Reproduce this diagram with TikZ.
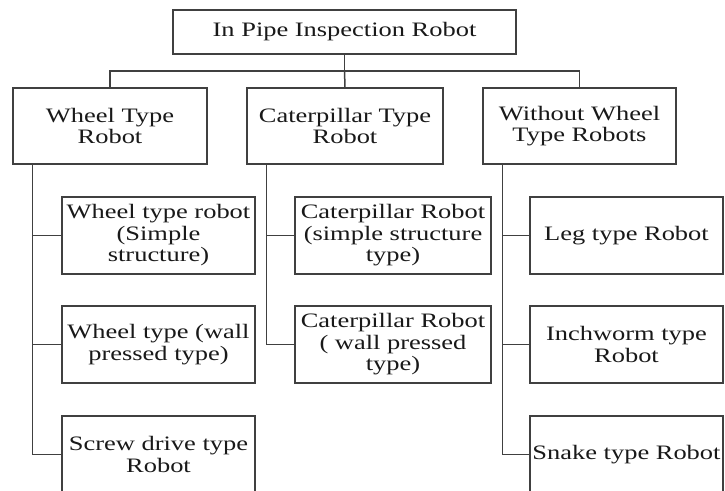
\documentclass[tikz,border=0pt]{standalone}
\usepackage{fontspec}
\setmainfont{Liberation Serif}[FakeStretch=1.29]
\usepackage{xcolor}
\usepackage{tikz}
\usetikzlibrary{positioning}

\begin{document}
\begin{tikzpicture}[x=1pt, y=-1pt,
  box/.style={draw=black!75, line width=1.5pt, align=center, inner sep=0pt,
    font=\fontsize{20.5}{21.5}\selectfont, text=black!90},
  typebox/.style={box, minimum width=194pt, minimum height=76pt},
  subbox/.style={box, minimum width=194pt, minimum height=77pt},
  link/.style={draw=black!75, line width=1.5pt}]
\useasboundingbox[fill=white] (0,0) rectangle (725,490);

% Root
\node[box, minimum width=343pt, minimum height=44pt] (root) at (344.5,32) {In Pipe Inspection Robot};
\coordinate (bar) at (344.5,71);

% Robot types
\node[typebox] (wheel) at (110,126) {Wheel Type\\Robot};
\node[typebox, minimum width=196pt] (cat) at (345,126) {Caterpillar Type\\Robot};
\node[typebox, minimum width=193pt] (nowheel) at (579.5,126) {Without Wheel\\Type Robots};

% Wheel type
\node[subbox, minimum width=193pt] (w1) at (158.5,235.5) {Wheel type robot\\(Simple\\structure)};
\node[subbox, minimum width=193pt] (w2) at (158.5,344.5) {Wheel type (wall\\pressed type)};
\node[subbox, minimum width=193pt] (w3) at (158.5,454.5) {Screw drive type\\Robot};

% Caterpillar type
\node[subbox, minimum width=196pt] (c1) at (393,235.5) {Caterpillar Robot\\(simple structure\\type)};
\node[subbox, minimum width=196pt] (c2) at (393,344.5) {Caterpillar Robot\\( wall pressed\\type)};

% Without wheel type
\node[subbox, minimum width=193pt] (n1) at (626.5,235.5) {Leg type Robot};
\node[subbox, minimum width=193pt] (n2) at (626.5,344.5) {Inchworm type\\Robot};
\node[subbox, minimum width=193pt] (n3) at (626.5,454.5) {Snake type Robot};

% Top level links
\draw[link] (root) -- (bar);
\draw[link] (wheel.north) |- (bar) -| (nowheel.north);
\draw[link] (bar) -- (cat.north);

% Branch links
\coordinate (wtrunk) at ([xshift=20pt]wheel.south west);
\coordinate (ctrunk) at ([xshift=20pt]cat.south west);
\coordinate (ntrunk) at ([xshift=20pt]nowheel.south west);
\draw[link] (wtrunk) |- (w3.west);
\draw[link] (w1.west) -- (w1.west -| wtrunk);
\draw[link] (w2.west) -- (w2.west -| wtrunk);
\draw[link] (ctrunk) |- (c2.west);
\draw[link] (c1.west) -- (c1.west -| ctrunk);
\draw[link] (ntrunk) |- (n3.west);
\draw[link] (n1.west) -- (n1.west -| ntrunk);
\draw[link] (n2.west) -- (n2.west -| ntrunk);
\end{tikzpicture}
\end{document}
